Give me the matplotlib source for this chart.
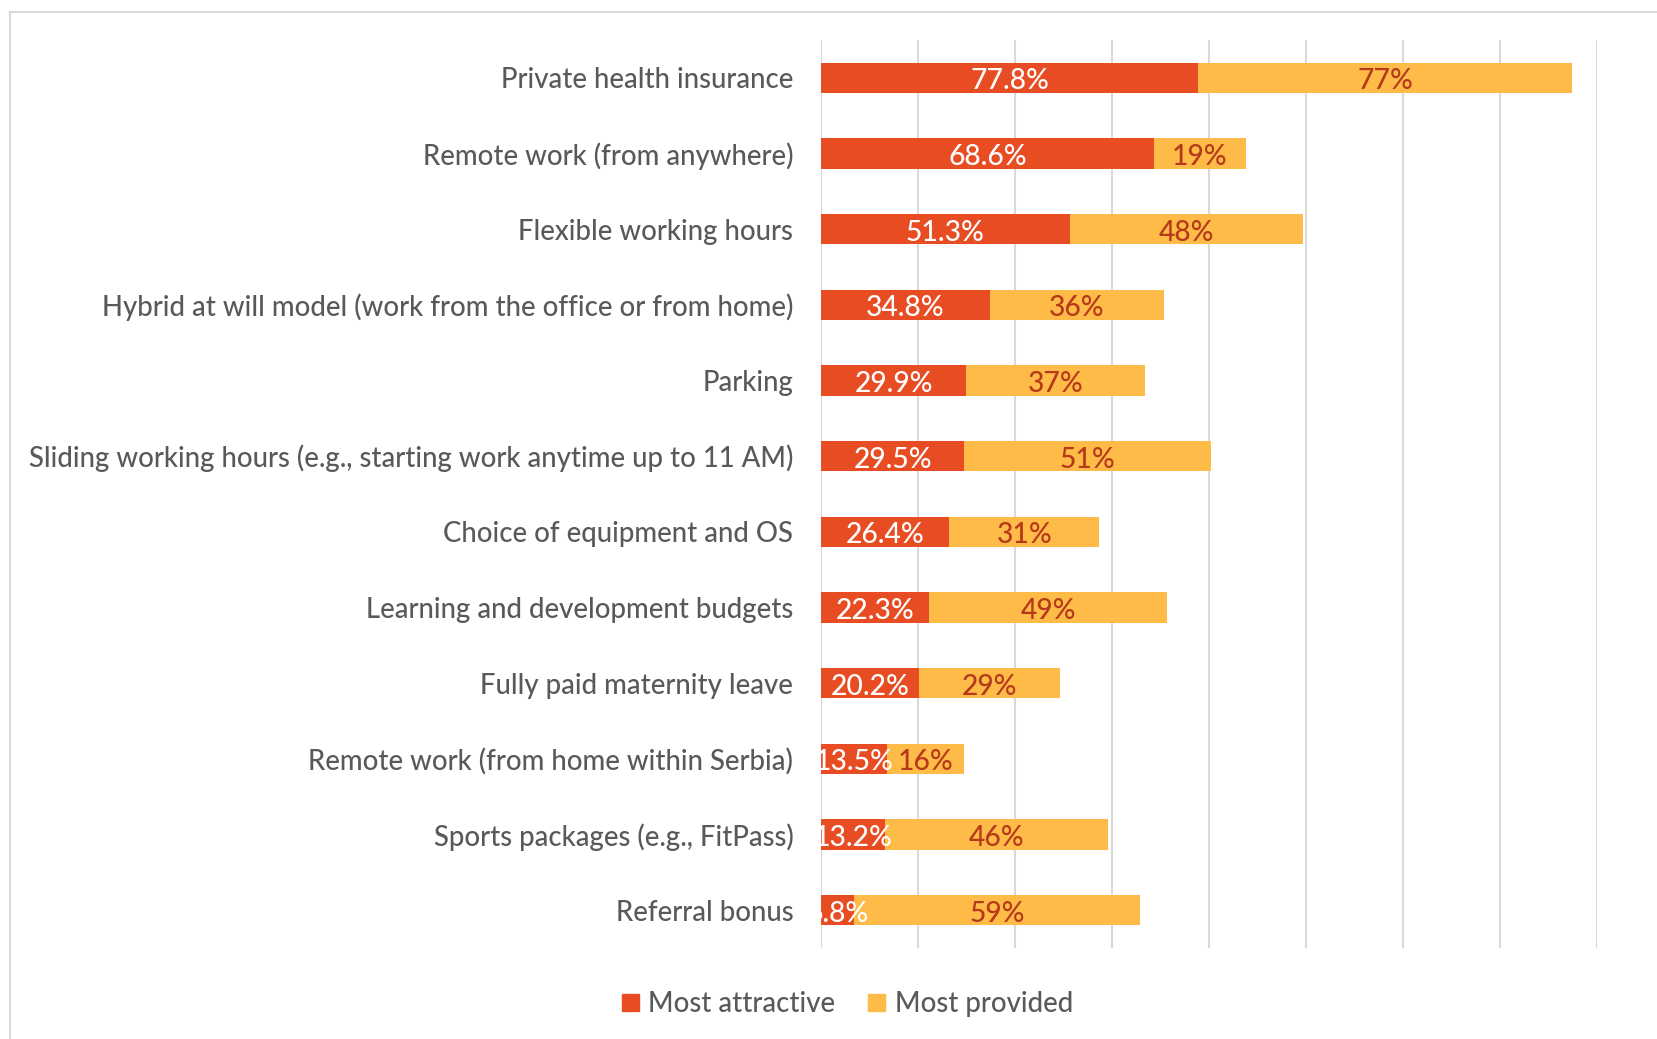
'''
Benefits chart: most attractive vs most provided
'''

# Imports
import matplotlib
matplotlib.use('Agg')
import matplotlib.pyplot as plt
from matplotlib.patches import Patch
from matplotlib.lines import Line2D

# Data
categories = [
    'Private health insurance',
    'Remote work (from anywhere)',
    'Flexible working hours',
    'Hybrid at will model (work from the office or from home)',
    'Parking',
    'Sliding working hours (e.g., starting work anytime up to 11 AM)',
    'Choice of equipment and OS',
    'Learning and development budgets',
    'Fully paid maternity leave',
    'Remote work (from home within Serbia)',
    'Sports packages (e.g., FitPass)',
    'Referral bonus',
]
most_attractive = [77.8, 68.6, 51.3, 34.8, 29.9, 29.5, 26.4, 22.3, 20.2, 13.5, 13.2, 6.8]
most_provided = [77, 19, 48, 36, 37, 51, 31, 49, 29, 16, 46, 59]
series_names = ['Most attractive', 'Most provided']

# Style
RED = '#E84C22'
YELLOW = '#FFBB47'
DARKRED = '#B5391A'
TEXT = '#595959'
GRID = '#D9D9D9'
FONT = ['Lato', 'DejaVu Sans']
FS = 19.8

plt.rcParams['font.family'] = FONT
plt.rcParams['font.weight'] = 'medium'

fig = plt.figure(figsize=(16.57, 10.39), dpi=100)
ax = fig.add_axes([0.4955, 0.0876, 0.9638 - 0.4955, 0.9615 - 0.0876])

y = list(range(len(categories)))
ax.barh(y, most_attractive, height=0.4, color=RED, zorder=2)
ax.barh(y, most_provided, left=most_attractive, height=0.4, color=YELLOW, zorder=2)

# value labels (baseline a little below bar centre, like the original)
for i in y:
    a = most_attractive[i]
    p = most_provided[i]
    ax.text(a / 2, i + 0.15, f'{a:.1f}%', ha='center', va='baseline', color='white',
            fontsize=FS + 0.5, zorder=3, clip_on=True)
    ax.text(a + p / 2, i + 0.15, f'{p:.0f}%', ha='center', va='baseline', color=DARKRED,
            fontsize=FS + 0.5, zorder=3, clip_on=True)

ax.set_xlim(0, 160)
ax.set_ylim(len(categories) - 0.5, -0.5)
ax.set_xticks(range(0, 161, 20))
ax.xaxis.grid(True, color=GRID, linewidth=1.5, zorder=0)
ax.set_axisbelow(True)
ax.tick_params(axis='x', length=0, labelbottom=False)
ax.set_yticks(y)
ax.set_yticklabels(categories, fontsize=FS, color=TEXT)
ax.tick_params(axis='y', length=0, pad=20)
for s in ax.spines.values():
    s.set_visible(False)

# legend
handles = [Patch(color=RED), Patch(color=YELLOW)]
fig.legend(handles, series_names, loc='center', bbox_to_anchor=(0.5115, 0.0337),
           ncol=2, frameon=False, fontsize=FS, labelcolor=TEXT,
           handlelength=0.6, handleheight=0.6, handletextpad=0.35, columnspacing=1.2)

# outer border (left and top only visible)
W, H = 1657, 1039
fig.add_artist(Line2D([9.5 / W, 9.5 / W], [0, 1 - 11.5 / H], color=GRID, linewidth=1.5))
fig.add_artist(Line2D([9.5 / W, 1], [1 - 11.5 / H, 1 - 11.5 / H], color=GRID, linewidth=1.5))

fig.savefig('out.png', dpi=100)
